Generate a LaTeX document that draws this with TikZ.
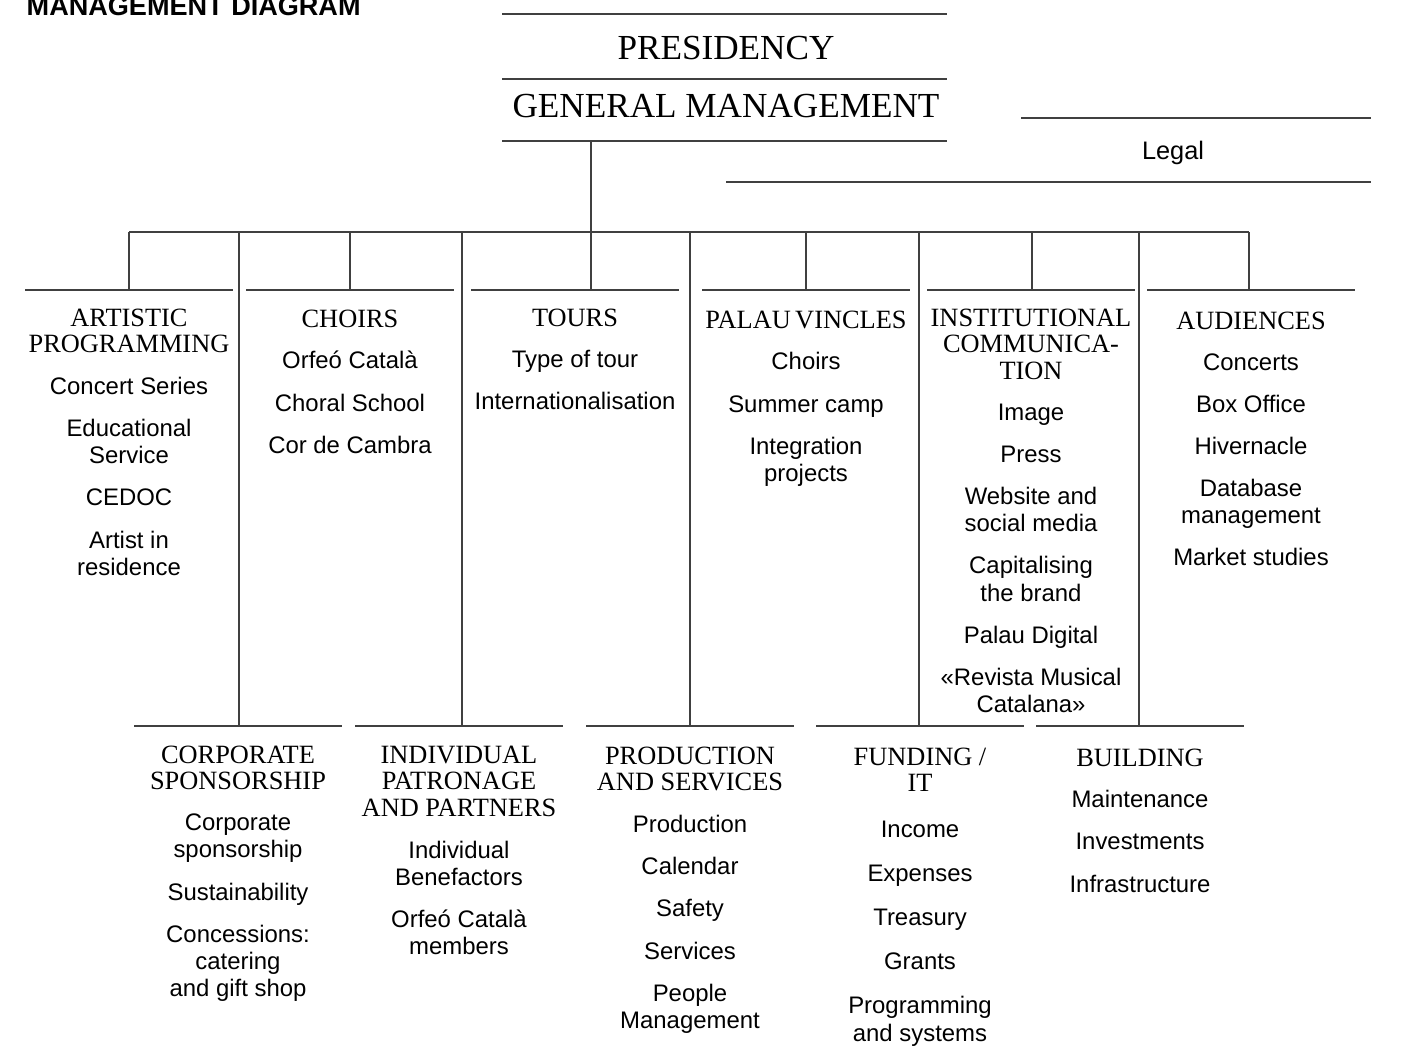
\documentclass[tikz,border=0pt]{standalone}
\usepackage{fontspec}
\setmainfont{Liberation Serif}
\setsansfont{Liberation Sans}
\usetikzlibrary{positioning}
\tikzset{
  rule/.style={line width=0.6pt, black!75},
  chief/.style={anchor=base, inner sep=0pt, font=\fontsize{10}{12}\selectfont},
  head/.style={anchor=north, inner sep=0pt, align=center, font=\fontsize{7.5}{7.6}\selectfont},
  items/.style={below=0.225cm of #1, inner sep=0pt, align=center, font=\sffamily\fontsize{6.8}{7.7}\selectfont}
}

\begin{document}
\begin{tikzpicture}[x=0.01cm, y=-0.01cm]
  \useasboundingbox (0,0) rectangle (1401,1048);

  % Title, cut by the top edge
  \node[anchor=base west, inner sep=0pt, font=\sffamily\bfseries\fontsize{7.7}{9}\selectfont] (title) at (26,15) {MANAGEMENT DIAGRAM};

  % Presidency and general management
  \draw[rule] (502,14) -- (947,14);
  \node[chief] (pres) at (726,59) {PRESIDENCY};
  \draw[rule] (502,79) -- (947,79);
  \node[chief] (gm) at (726,117) {GENERAL MANAGEMENT};
  \draw[rule] (502,141) -- (947,141);

  % Legal
  \draw[rule] (1021,118) -- (1371,118);
  \node[anchor=base, inner sep=0pt, font=\sffamily\fontsize{7.2}{9}\selectfont] (legal) at (1173,159) {Legal};
  \draw[rule] (726,182) -- (1371,182);

  % Reference rows
  \coordinate (gmstem) at (591,141);
  \coordinate (bus) at (129,232);
  \coordinate (toprow) at (0,290);
  \coordinate (botrow) at (0,726);

  % Upper departments
  \node[head] (prog) at (129,308) {ARTISTIC\\PROGRAMMING};
  \node[head] (choirs) at (350,309) {CHOIRS};
  \node[head] (tours) at (575,308) {TOURS};
  \node[head] (vincles) at (806,310) {PALAU\,VINCLES};
  \node[head] (comm) at (1031,308) {INSTITUTIONAL\\COMMUNICA-\\TION};
  \node[head] (aud) at (1251,311) {AUDIENCES};

  % Lower departments
  \node[head] (spons) at (238,745) {CORPORATE\\SPONSORSHIP};
  \node[head] (patron) at (459,745) {INDIVIDUAL\\PATRONAGE\\AND PARTNERS};
  \node[head] (prod) at (690,746) {PRODUCTION\\AND SERVICES};
  \node[head] (fund) at (920,747) {FUNDING /\\IT};
  \node[head] (build) at (1140,748) {BUILDING};

  % Lists
  \node[items=prog] (progL) {Concert Series\\[4.3pt]Educational\\Service\\[4.3pt]CEDOC\\[4.3pt]Artist in\\residence};
  \node[items=choirs] (choirsL) {Orfeó Català\\[4.3pt]Choral School\\[4.3pt]Cor de Cambra};
  \node[items=tours] (toursL) {Type of tour\\[4.3pt]Internationalisation};
  \node[items=vincles] (vinclesL) {Choirs\\[4.3pt]Summer camp\\[4.3pt]Integration\\projects};
  \node[items=comm] (commL) {Image\\[4.3pt]Press\\[4.3pt]Website and\\social media\\[4.3pt]Capitalising\\the brand\\[4.3pt]Palau Digital\\[4.3pt]«Revista Musical\\Catalana»};
  \node[items=aud] (audL) {Concerts\\[4.3pt]Box Office\\[4.3pt]Hivernacle\\[4.3pt]Database\\management\\[4.3pt]Market studies};
  \node[items=spons] (sponsL) {Corporate\\sponsorship\\[4.3pt]Sustainability\\[4.3pt]Concessions:\\catering\\and gift shop};
  \node[items=patron] (patronL) {Individual\\Benefactors\\[4.3pt]Orfeó Català\\members};
  \node[items=prod] (prodL) {Production\\[4.3pt]Calendar\\[4.3pt]Safety\\[4.3pt]Services\\[4.3pt]People\\Management};
  \node[items=fund, below=0.28cm of fund, font=\sffamily\fontsize{6.8}{8}\selectfont] (fundL) {Income\\[4.5pt]Expenses\\[4.5pt]Treasury\\[4.5pt]Grants\\[4.5pt]Programming\\and systems};
  \node[items=build] (buildL) {Maintenance\\[4.3pt]Investments\\[4.3pt]Infrastructure};

  % Rules and stems
  \draw[rule] (gmstem) -- (gmstem |- bus);
  \draw[rule] (bus) -- ++(1120,0);
  \foreach \n/\d in {prog/0, choirs/0, tours/16, vincles/0, comm/1, aud/-2}{
    \draw[rule] (\n.north |- toprow) ++(-104,0) -- ++(208,0);
    \draw[rule] (\n.north |- toprow) ++(\d,0) coordinate (s) -- (s |- bus);
  }
  \foreach \n/\d in {spons/1, patron/3, prod/0, fund/-1, build/-1}{
    \draw[rule] (\n.north |- botrow) ++(-104,0) -- ++(208,0);
    \draw[rule] (\n.north |- botrow) ++(\d,0) coordinate (s) -- (s |- bus);
  }
\end{tikzpicture}
\end{document}
